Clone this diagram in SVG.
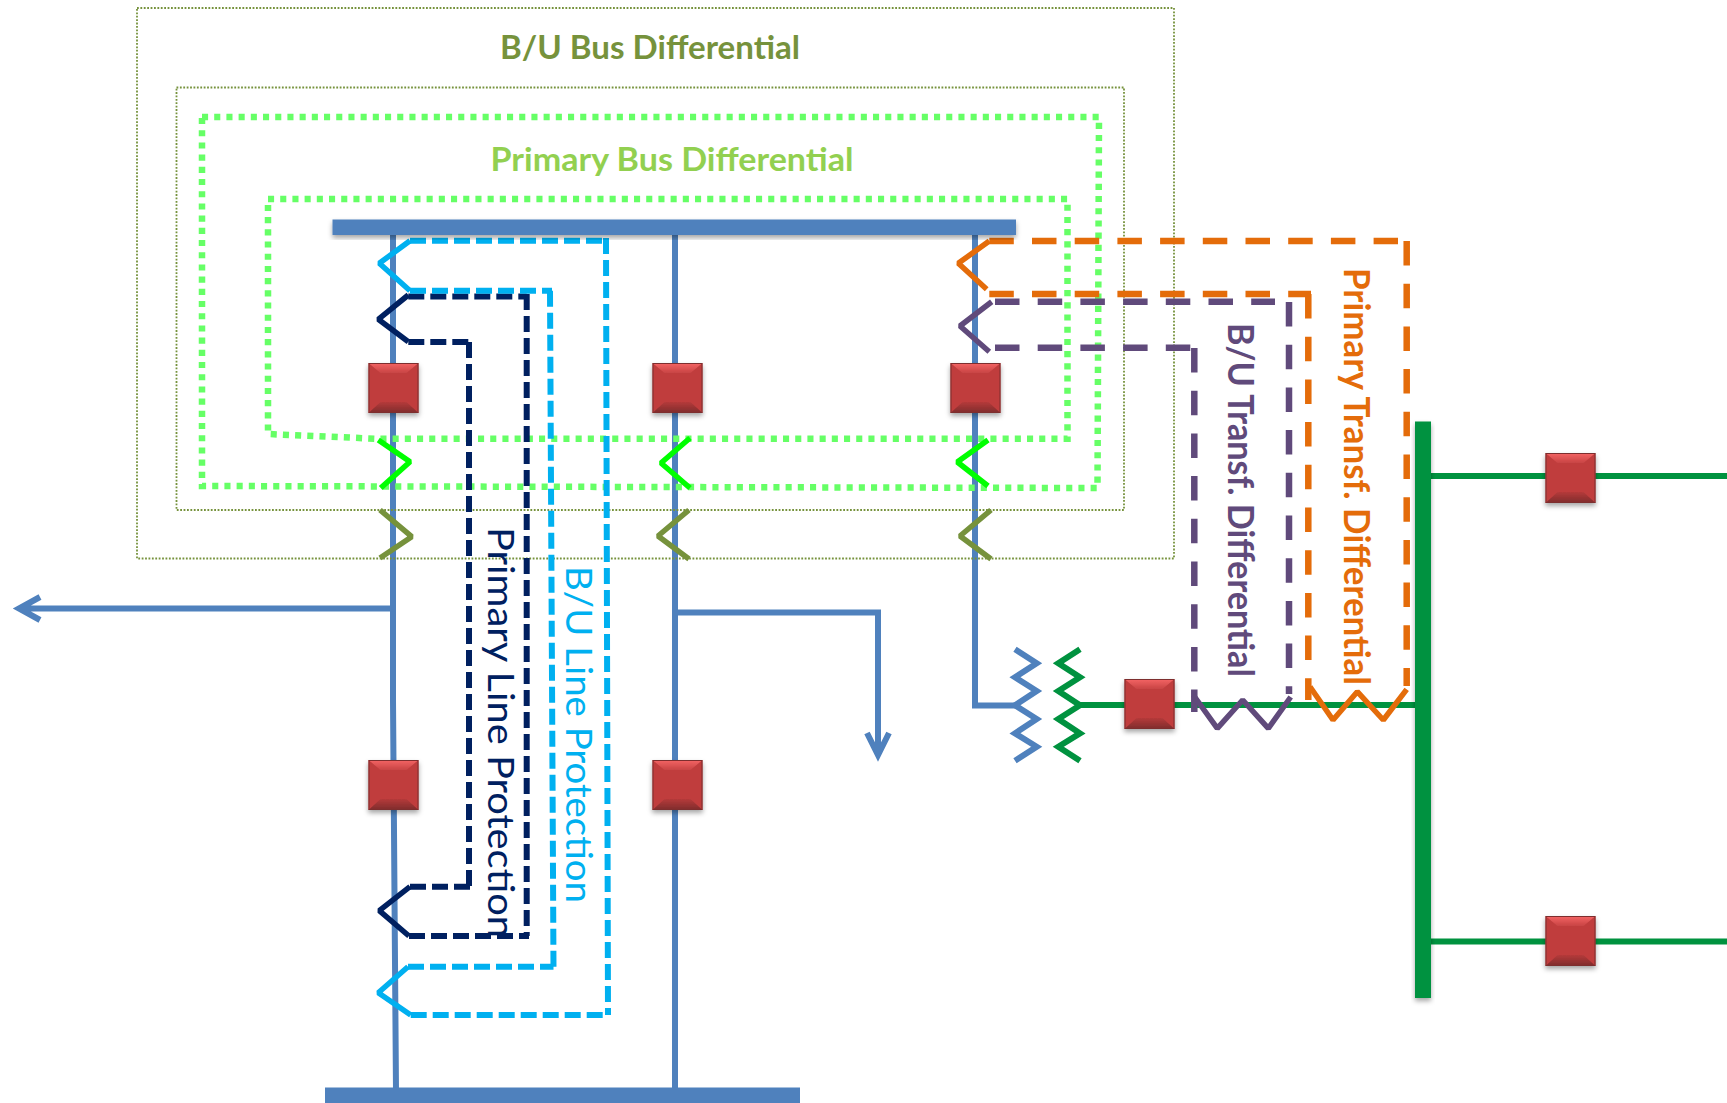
<svg xmlns="http://www.w3.org/2000/svg" width="1727" height="1103" viewBox="0 0 1727 1103">
<style>
text{font-family:Lato,"Liberation Sans",sans-serif}
.ln{fill:none;stroke-linejoin:miter}
.b{stroke:#4f81bd;stroke-width:6}
.g{stroke:#00923f;stroke-width:6}
.ol{stroke:#76923c;stroke-width:1.8;stroke-dasharray:1.8 1.6}
.lg{stroke:#66ff66;stroke-width:6.500;stroke-dasharray:6.100 6.100}
.cy{stroke:#00b0f0}
.nv{stroke:#002060}
.or{stroke:#e46c0a}
.pu{stroke:#604a7b}
.d1{stroke-width:6;stroke-dasharray:16 6}
.d2{stroke-width:6.500;stroke-dasharray:24.500 18.200}
.s{stroke-width:5.500;stroke-linejoin:bevel}
.bus{fill:#4f81bd}
.t{font-size:37px}
</style>
<defs>
<filter id="sh" x="-20%" y="-20%" width="140%" height="150%"><feDropShadow dx="0" dy="3" stdDeviation="2.5" flood-color="#000" flood-opacity="0.35"/></filter>
<linearGradient id="tg" x1="0" y1="0" x2="0" y2="1"><stop offset="0" stop-color="#f56565"/><stop offset="1" stop-color="#c84444"/></linearGradient>
<linearGradient id="bg" x1="0" y1="0" x2="0" y2="1"><stop offset="0" stop-color="#b53a3a"/><stop offset="1" stop-color="#7e2c2c"/></linearGradient>
<g id="brk">
<rect x="0" y="0" width="50" height="50" fill="#c03d3d"/>
<polygon points="0,0 50,0 38,10 12,10" fill="url(#tg)"/>
<polygon points="0,50 50,50 38,39 12,39" fill="url(#bg)"/>
<rect x="0.500" y="0.500" width="49" height="49" fill="none" stroke="#7d2f2f" stroke-width="1"/>
</g>
</defs>

<g id="connectors">
<path class="ln b" d="M393 232V366M393 410V700Q394 900 396 1092"/>
<path class="ln b" d="M395 608.500H22M40 597L19 608.500L40 620"/>
<path class="ln b" d="M675 232V1092"/>
<path class="ln b" d="M675 612.500H878V755M867 733L878 755L889 733"/>
<path class="ln b" d="M975 232V705.500H1016"/>
<path class="ln g" d="M1080 705H1416"/>
<path class="ln g" d="M1430 476H1727M1430 941.500H1727"/>
<path class="ln b" d="M1015 649.300L1036.700 663.300L1015 677.300L1036.700 691L1015 705.300L1036.700 719L1015 733.300L1036.700 746.700L1015 760.700"/>
<path class="ln g" d="M1080 649.300L1058.300 663.300L1080 677.300L1058.300 691L1080 705.300L1058.300 719L1080 733.300L1058.300 746.700L1080 760.700"/>
</g>

<g id="zones">
<rect class="ln ol" x="137" y="8" width="1037" height="550.500"/>
<rect class="ln ol" x="176.500" y="87.500" width="947.500" height="422.500"/>
<path class="ln lg" d="M202 117H1099L1097.500 488L202 486Z"/>
<path class="ln lg" d="M268 199H1067.500V438.700L375 438.700L268 434Z"/>
<path class="ln s" stroke="#00ff00" d="M378.300 440L410 461.700L380.700 488M690 438L661 463L690 488M988 440L957.300 462L988 486"/>
<path class="ln s" stroke="#76923c" d="M380 510L411.700 536.700L380 558M689 510L658 536L689 559M991 510L960 536L991 559"/>
</g>

<g id="line-protection">
<path class="ln d1 nv" d="M408.300 296.500H526.700M526.700 294V936M409 936H529"/>
<path class="ln d1 nv" d="M410 886.700H471M469 342V889M408.300 342H472"/>
<path class="ln s nv" d="M408.300 295L378.300 319.300L408.300 341.700"/>
<path class="ln s nv" d="M409 936L379.300 910.700L410 886.700"/>
<path class="ln d1 cy" d="M410 240.700H606.500M606 238L608 1015M410.700 1015H608"/>
<path class="ln d1 cy" d="M408 966.700H553.500M550 290.700L553.500 969M410 290.700H552"/>
<path class="ln s cy" d="M410 240.700L379.300 263.300L410 290.700"/>
<path class="ln s cy" d="M410.700 1015L378.300 992.700L408 966.700"/>
</g>

<g id="transformer-differential">
<path class="ln d2 or" d="M989.300 241H1398M1406.700 241V686"/>
<path class="ln d2 or" d="M989.300 294H1311M1308.300 294V700"/>
<path class="ln s or" d="M989.300 241L958.300 263.300L986.700 289.300"/>
<path class="ln s or" d="M1310 686.700L1333 720L1357.300 691.700L1383.300 720L1406.700 689.300"/>
<path class="ln d2 pu" d="M995 301.700H1275M1289 302V694"/>
<path class="ln d2 pu" d="M995 347.700H1197M1194.300 348V712"/>
<path class="ln s pu" d="M991.700 301.700L960 326L989.300 351.700"/>
<path class="ln s pu" d="M1193.300 695L1217.300 728.300L1242.700 700L1268.300 728.300L1290.700 697"/>
</g>

<g id="bus-top"><rect class="bus" x="332.500" y="219.500" width="683.500" height="15.500" filter="url(#sh)"/></g>
<g id="bus-bottom"><rect class="bus" x="325" y="1087.500" width="475" height="15.500"/></g>
<g id="bus-right"><rect x="1415" y="421.500" width="16" height="576.500" fill="#00923f" filter="url(#sh)"/></g>

<g id="breaker-1" filter="url(#sh)"><use href="#brk" x="368.500" y="363"/></g>
<g id="breaker-2" filter="url(#sh)"><use href="#brk" x="652.500" y="363"/></g>
<g id="breaker-3" filter="url(#sh)"><use href="#brk" x="950.500" y="363"/></g>
<g id="breaker-4" filter="url(#sh)"><use href="#brk" x="368.500" y="760"/></g>
<g id="breaker-5" filter="url(#sh)"><use href="#brk" x="652.500" y="760"/></g>
<g id="breaker-6" filter="url(#sh)"><use href="#brk" x="1124.500" y="679"/></g>
<g id="breaker-7" filter="url(#sh)"><use href="#brk" x="1545.500" y="453"/></g>
<g id="breaker-8" filter="url(#sh)"><use href="#brk" x="1545.500" y="916"/></g>

<g id="labels">
<text x="650" y="59" text-anchor="middle" font-size="32" font-weight="700" fill="#76923c" textLength="300" lengthAdjust="spacingAndGlyphs">B/U Bus Differential</text>
<text x="672" y="171" text-anchor="middle" font-size="32" font-weight="700" fill="#92d050" textLength="363" lengthAdjust="spacingAndGlyphs">Primary Bus Differential</text>
<text class="t" transform="translate(488 527) rotate(90)" fill="#002060" textLength="411" lengthAdjust="spacingAndGlyphs">Primary Line Protection</text>
<text class="t" transform="translate(566 566) rotate(90)" fill="#00b0f0" textLength="337" lengthAdjust="spacingAndGlyphs">B/U Line Protection</text>
<text class="t" transform="translate(1228 323) rotate(90)" font-weight="700" fill="#604a7b" textLength="354" lengthAdjust="spacingAndGlyphs">B/U Transf. Differential</text>
<text class="t" transform="translate(1344 268) rotate(90)" font-weight="700" fill="#e46c0a" textLength="417" lengthAdjust="spacingAndGlyphs">Primary Transf. Differential</text>
</g>
</svg>
